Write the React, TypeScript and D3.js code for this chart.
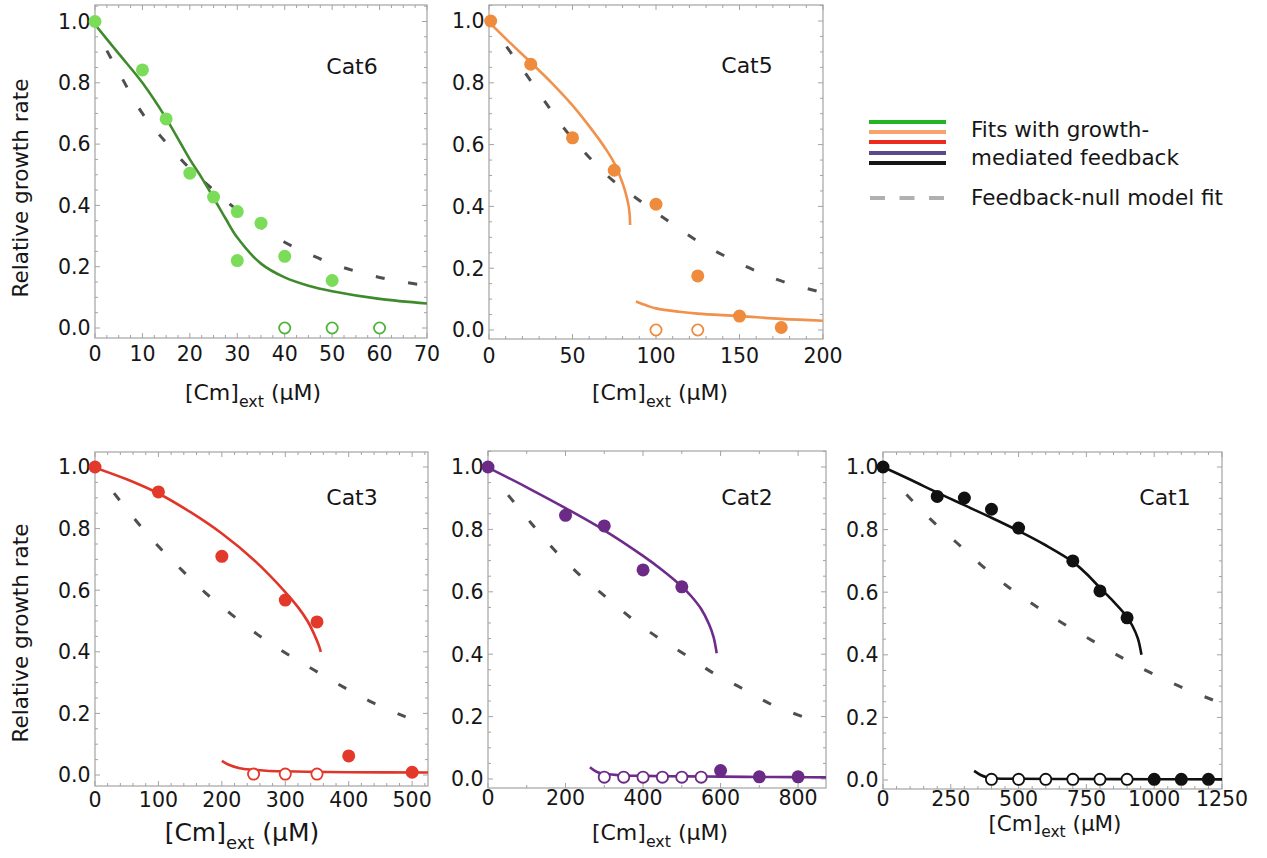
import React from "react";
import * as d3 from "d3";

// ---------------- data ----------------
const yTickValues = [0, 0.2, 0.4, 0.6, 0.8, 1.0];

// Cat6
const cat6XTicks = [0, 10, 20, 30, 40, 50, 60, 70];
const cat6FilledX = [0, 10, 15, 20, 25, 30, 30, 35, 40, 50];
const cat6FilledY = [1.0, 0.842, 0.682, 0.505, 0.427, 0.38, 0.22, 0.342, 0.234, 0.155];
const cat6OpenX = [40, 50, 60];
const cat6OpenY = [0, 0, 0];
const cat6FitX = [0, 5, 10, 15, 20, 22.5, 25, 27.5, 30, 35, 40, 45, 50, 60, 70];
const cat6FitY = [0.99, 0.895, 0.8, 0.684, 0.55, 0.49, 0.425, 0.358, 0.295, 0.21, 0.165, 0.138, 0.12, 0.095, 0.08];
const cat6NullX = [2.5, 5, 10, 15, 20, 25, 30, 35, 40, 45, 50, 55, 60, 65, 70];
const cat6NullY = [0.905, 0.835, 0.7, 0.605, 0.52, 0.45, 0.385, 0.33, 0.28, 0.242, 0.21, 0.185, 0.165, 0.15, 0.138];

// Cat5
const cat5XTicks = [0, 50, 100, 150, 200];
const cat5FilledX = [1, 25, 50, 75, 100, 125, 150, 175];
const cat5FilledY = [1.0, 0.86, 0.622, 0.517, 0.407, 0.175, 0.045, 0.008];
const cat5OpenX = [100, 125];
const cat5OpenY = [0, 0];
const cat5FitUpperX = [0, 12.5, 25, 37.5, 50, 62.5, 70, 75, 80, 82, 83.5, 84.2, 84.5];
const cat5FitUpperY = [0.996, 0.93, 0.866, 0.8, 0.727, 0.642, 0.585, 0.54, 0.475, 0.44, 0.405, 0.375, 0.34];
const cat5FitLowerX = [88, 95, 100, 114, 125, 150, 175, 200];
const cat5FitLowerY = [0.092, 0.078, 0.07, 0.059, 0.053, 0.045, 0.036, 0.03];
const cat5NullX = [10.5, 20, 35.7, 45.8, 59.8, 73.9, 89.9, 108, 124, 142, 160, 178, 200];
const cat5NullY = [0.917, 0.845, 0.722, 0.647, 0.56, 0.485, 0.42, 0.35, 0.291, 0.237, 0.191, 0.153, 0.121];

// Cat3
const cat3XTicks = [0, 100, 200, 300, 400, 500];
const cat3FilledX = [0, 100, 200, 300, 350, 400, 500];
const cat3FilledY = [1.0, 0.919, 0.71, 0.568, 0.497, 0.062, 0.009];
const cat3OpenX = [250, 300, 350];
const cat3OpenY = [0.003, 0.003, 0.003];
const cat3FitUpperX = [0, 50, 100, 150, 200, 250, 300, 320, 335, 346, 353, 356];
const cat3FitUpperY = [0.998, 0.96, 0.914, 0.854, 0.784, 0.699, 0.594, 0.545, 0.5, 0.455, 0.42, 0.4];
const cat3FitLowerX = [200, 210, 228, 250, 270, 300, 350, 400, 525];
const cat3FitLowerY = [0.046, 0.034, 0.022, 0.017, 0.014, 0.012, 0.01, 0.009, 0.008];
const cat3NullX = [30, 67, 101, 137, 175, 216, 257, 301, 346, 394, 438, 488, 525];
const cat3NullY = [0.915, 0.82, 0.74, 0.665, 0.59, 0.52, 0.455, 0.395, 0.34, 0.283, 0.235, 0.19, 0.16];

// Cat2
const cat2XTicks = [0, 200, 400, 600, 800];
const cat2FilledX = [0, 200, 300, 400, 500, 600, 700, 800];
const cat2FilledY = [1.0, 0.845, 0.811, 0.67, 0.616, 0.027, 0.007, 0.007];
const cat2OpenX = [300, 350, 400, 450, 500, 550];
const cat2OpenY = [0.006, 0.006, 0.006, 0.006, 0.006, 0.006];
const cat2FitUpperX = [0, 100, 200, 300, 400, 450, 500, 525, 550, 570, 582, 590];
const cat2FitUpperY = [0.998, 0.935, 0.868, 0.797, 0.715, 0.669, 0.617, 0.585, 0.545, 0.497, 0.455, 0.403];
const cat2FitLowerX = [263, 275, 289, 340, 400, 513, 600, 700, 800, 872];
const cat2FitLowerY = [0.038, 0.027, 0.019, 0.012, 0.01, 0.0085, 0.0075, 0.0065, 0.006, 0.0053];
const cat2NullX = [52, 112, 172, 228, 293, 365, 435, 509, 582, 655, 733, 823];
const cat2NullY = [0.91, 0.819, 0.733, 0.664, 0.595, 0.52, 0.456, 0.398, 0.339, 0.291, 0.238, 0.195];

// Cat1
const cat1XTicks = [0, 250, 500, 750, 1000, 1250];
const cat1FilledX = [0, 200, 300, 400, 500, 700, 800, 900, 1000, 1100, 1200];
const cat1FilledY = [1.0, 0.906, 0.901, 0.865, 0.805, 0.7, 0.604, 0.518, 0.002, 0.002, 0.002];
const cat1OpenX = [400, 500, 600, 700, 800, 900];
const cat1OpenY = [0.002, 0.002, 0.002, 0.002, 0.002, 0.002];
const cat1FitUpperX = [0, 100, 200, 300, 400, 500, 600, 700, 750, 800, 850, 900, 920, 940, 953];
const cat1FitUpperY = [1.0, 0.96, 0.918, 0.878, 0.838, 0.796, 0.75, 0.697, 0.659, 0.614, 0.57, 0.521, 0.492, 0.452, 0.4];
const cat1FitLowerX = [336, 360, 383, 420, 482, 700, 1000, 1250];
const cat1FitLowerY = [0.029, 0.016, 0.0085, 0.005, 0.004, 0.003, 0.0025, 0.002];
const cat1NullX = [86.5, 173, 272, 358, 457, 556, 655, 778, 889, 988, 1112, 1248];
const cat1NullY = [0.912, 0.835, 0.758, 0.69, 0.62, 0.56, 0.505, 0.442, 0.387, 0.342, 0.292, 0.245];

const legendLabels = ["Fits with growth-", "mediated feedback", "Feedback-null model fit"];

// ---------------- layout / style ----------------
const FONT = "'DejaVu Sans', 'Liberation Sans', Arial, sans-serif";
const TEXT = "#161616";
const NULL_COLOR = "#4f4f4f";
const FRAME = "#a3a3a3";

const zip = (xs: number[], ys: number[]) => xs.map((x, i) => [x, ys[i]] as [number, number]);

type PanelCfg = {
  id: string;
  label: string;
  left: number; right: number; top: number; bottom: number;
  y1: number; y0: number; xMax: number; xTicks: number[]; xMinor: number;
  filled: [number, number][]; open: [number, number][];
  fits: [number, number][][]; nullFit: [number, number][];
  pointColor: string; openColor: string; lineColor: string;
  labelPos: [number, number];
  xTitle: { cx: number; y: number; fs: number };
  xTickY: number;
  yTitleY?: number;
};

const panels: PanelCfg[] = [
  {
    id: "cat6", label: "Cat6", left: 95, right: 427, top: 5, bottom: 338, y1: 21.5, y0: 328,
    xMax: 70, xTicks: cat6XTicks, xMinor: 2.5,
    filled: zip(cat6FilledX, cat6FilledY), open: zip(cat6OpenX, cat6OpenY),
    fits: [zip(cat6FitX, cat6FitY)], nullFit: zip(cat6NullX, cat6NullY),
    pointColor: "#7bdc5a", openColor: "#4fb43c", lineColor: "#3f8a2d",
    labelPos: [352, 74], xTitle: { cx: 253, y: 400, fs: 22 }, xTickY: 361, yTitleY: 188,
  },
  {
    id: "cat5", label: "Cat5", left: 489, right: 823, top: 5, bottom: 339, y1: 21, y0: 330,
    xMax: 200, xTicks: cat5XTicks, xMinor: 10,
    filled: zip(cat5FilledX, cat5FilledY), open: zip(cat5OpenX, cat5OpenY),
    fits: [zip(cat5FitUpperX, cat5FitUpperY), zip(cat5FitLowerX, cat5FitLowerY)],
    nullFit: zip(cat5NullX, cat5NullY),
    pointColor: "#ee8b3c", openColor: "#ee8b3c", lineColor: "#f0914c",
    labelPos: [747, 73], xTitle: { cx: 660, y: 400, fs: 22 }, xTickY: 363,
  },
  {
    id: "cat3", label: "Cat3", left: 95, right: 428, top: 452, bottom: 786, y1: 467, y0: 775,
    xMax: 525, xTicks: cat3XTicks, xMinor: 20,
    filled: zip(cat3FilledX, cat3FilledY), open: zip(cat3OpenX, cat3OpenY),
    fits: [zip(cat3FitUpperX, cat3FitUpperY), zip(cat3FitLowerX, cat3FitLowerY)],
    nullFit: zip(cat3NullX, cat3NullY),
    pointColor: "#e2392b", openColor: "#e2392b", lineColor: "#e0362a",
    labelPos: [352, 505], xTitle: { cx: 242, y: 841, fs: 25 }, xTickY: 807, yTitleY: 633,
  },
  {
    id: "cat2", label: "Cat2", left: 488, right: 826, top: 451, bottom: 788, y1: 467, y0: 779,
    xMax: 872, xTicks: cat2XTicks, xMinor: 100,
    filled: zip(cat2FilledX, cat2FilledY), open: zip(cat2OpenX, cat2OpenY),
    fits: [zip(cat2FitUpperX, cat2FitUpperY), zip(cat2FitLowerX, cat2FitLowerY)],
    nullFit: zip(cat2NullX, cat2NullY),
    pointColor: "#6a2a86", openColor: "#6a2a86", lineColor: "#6e2c8a",
    labelPos: [747, 505], xTitle: { cx: 660, y: 840, fs: 22 }, xTickY: 805,
  },
  {
    id: "cat1", label: "Cat1", left: 883, right: 1222, top: 452, bottom: 789, y1: 467, y0: 780,
    xMax: 1250, xTicks: cat1XTicks, xMinor: 50,
    filled: zip(cat1FilledX, cat1FilledY), open: zip(cat1OpenX, cat1OpenY),
    fits: [zip(cat1FitUpperX, cat1FitUpperY), zip(cat1FitLowerX, cat1FitLowerY)],
    nullFit: zip(cat1NullX, cat1NullY),
    pointColor: "#111111", openColor: "#111111", lineColor: "#111111",
    labelPos: [1165, 505], xTitle: { cx: 1055, y: 831, fs: 21.5 }, xTickY: 806,
  },
];

const legendColors = ["#22b422", "#f5a56c", "#ec2a1e", "#5b4a8c", "#151515"];

const fmtY = d3.format(".1f");

function Panel({ p }: { p: PanelCfg }) {
  const x = d3.scaleLinear().domain([0, p.xMax]).range([p.left, p.right]);
  const y = d3.scaleLinear().domain([0, 1]).range([p.y0, p.y1]);
  const line = d3
    .line<[number, number]>()
    .x((d) => x(d[0]))
    .y((d) => y(d[1]))
    .curve(d3.curveCatmullRom.alpha(0.5));

  const yMin = y.invert(p.bottom);
  const yMax = y.invert(p.top);
  const yMinor = d3.range(Math.ceil(yMin / 0.05) * 0.05, yMax, 0.05).filter(
    (v) => Math.abs(Math.round(v / 0.2) * 0.2 - v) > 1e-6
  );
  const xMinor = d3.range(0, p.xMax + 1e-9, p.xMinor).filter(
    (v) => !p.xTicks.some((t) => Math.abs(t - v) < 1e-6)
  );
  const clipId = `clip-${p.id}`;
  const MAJ = 5;
  const MIN = 3;

  const ticks: JSX.Element[] = [];
  yTickValues.forEach((v, i) => {
    const yy = y(v);
    ticks.push(<line key={`yl${i}`} x1={p.left} x2={p.left + MAJ} y1={yy} y2={yy} />);
    ticks.push(<line key={`yr${i}`} x1={p.right} x2={p.right - MAJ} y1={yy} y2={yy} />);
  });
  yMinor.forEach((v, i) => {
    const yy = y(v);
    ticks.push(<line key={`yml${i}`} x1={p.left} x2={p.left + MIN} y1={yy} y2={yy} />);
    ticks.push(<line key={`ymr${i}`} x1={p.right} x2={p.right - MIN} y1={yy} y2={yy} />);
  });
  p.xTicks.forEach((v, i) => {
    const xx = x(v);
    ticks.push(<line key={`xb${i}`} x1={xx} x2={xx} y1={p.bottom} y2={p.bottom - MAJ} />);
    ticks.push(<line key={`xt${i}`} x1={xx} x2={xx} y1={p.top} y2={p.top + MAJ} />);
  });
  xMinor.forEach((v, i) => {
    const xx = x(v);
    ticks.push(<line key={`xmb${i}`} x1={xx} x2={xx} y1={p.bottom} y2={p.bottom - MIN} />);
    ticks.push(<line key={`xmt${i}`} x1={xx} x2={xx} y1={p.top} y2={p.top + MIN} />);
  });

  const fs = p.xTitle.fs;
  return (
    <g>
      <defs>
        <clipPath id={clipId}>
          <rect x={p.left} y={p.top} width={p.right - p.left} height={p.bottom - p.top} />
        </clipPath>
      </defs>
      <rect
        x={p.left}
        y={p.top}
        width={p.right - p.left}
        height={p.bottom - p.top}
        fill="#fff"
        stroke={FRAME}
        strokeWidth={1.2}
      />
      <g stroke={FRAME} strokeWidth={1}>{ticks}</g>

      {/* tick labels */}
      <g fontFamily={FONT} fontSize={20.5} fill={TEXT}>
        {yTickValues.map((v, i) => (
          <text key={`ytl${i}`} x={p.left - 4.5} y={y(v)} dy="0.36em" textAnchor="end">
            {fmtY(v)}
          </text>
        ))}
        {p.xTicks.map((v, i) => (
          <text key={`xtl${i}`} x={x(v)} y={p.xTickY} textAnchor="middle">
            {String(v)}
          </text>
        ))}
      </g>

      <g clipPath={`url(#${clipId})`}>
        <path
          d={line(p.nullFit) || ""}
          fill="none"
          stroke={NULL_COLOR}
          strokeWidth={3}
          strokeDasharray="9 24"
        />
        {p.fits.map((f, i) => (
          <path key={i} d={line(f) || ""} fill="none" stroke={p.lineColor} strokeWidth={2.6} />
        ))}
      </g>
      {p.filled.map((d, i) => (
        <circle key={`f${i}`} cx={x(d[0])} cy={y(d[1])} r={6.5} fill={p.pointColor} />
      ))}
      {p.open.map((d, i) => (
        <circle
          key={`o${i}`}
          cx={x(d[0])}
          cy={y(d[1])}
          r={5.6}
          fill="#fff"
          stroke={p.openColor}
          strokeWidth={1.8}
        />
      ))}

      <text
        x={p.labelPos[0]}
        y={p.labelPos[1]}
        textAnchor="middle"
        fontFamily={FONT}
        fontSize={22}
        fill={TEXT}
      >
        {p.label}
      </text>

      <text
        x={p.xTitle.cx}
        y={p.xTitle.y}
        textAnchor="middle"
        fontFamily={FONT}
        fontSize={fs}
        fill={TEXT}
      >
        [Cm]
        <tspan fontSize={fs * 0.72} dy={fs * 0.3}>ext</tspan>
        <tspan dy={-fs * 0.3}>{" (µM)"}</tspan>
      </text>

      {p.yTitleY !== undefined && (
        <text
          transform={`translate(28,${p.yTitleY}) rotate(-90)`}
          textAnchor="middle"
          fontFamily={FONT}
          fontSize={21.5}
          fill={TEXT}
        >
          Relative growth rate
        </text>
      )}
    </g>
  );
}

function Legend() {
  const ys = [122, 132, 142, 153, 163];
  return (
    <g>
      {legendColors.map((c, i) => (
        <line key={i} x1={869} x2={946} y1={ys[i]} y2={ys[i]} stroke={c} strokeWidth={4} />
      ))}
      <line
        x1={870}
        x2={946}
        y1={198}
        y2={198}
        stroke="#b0b0b0"
        strokeWidth={4}
        strokeDasharray="15 14.5"
      />
      <g fontFamily={FONT} fontSize={21.5} fill={TEXT}>
        <text x={971} y={137}>{legendLabels[0]}</text>
        <text x={971} y={165}>{legendLabels[1]}</text>
        <text x={971} y={205}>{legendLabels[2]}</text>
      </g>
    </g>
  );
}

export default function App() {
  return (
    <svg
      width={1267}
      height={858}
      style={{ position: "absolute", left: 0, top: 0, background: "#fff" }}
    >
      <rect x={0} y={0} width={1267} height={858} fill="#fff" />
      {panels.map((p) => (
        <Panel key={p.id} p={p} />
      ))}
      <Legend />
    </svg>
  );
}
